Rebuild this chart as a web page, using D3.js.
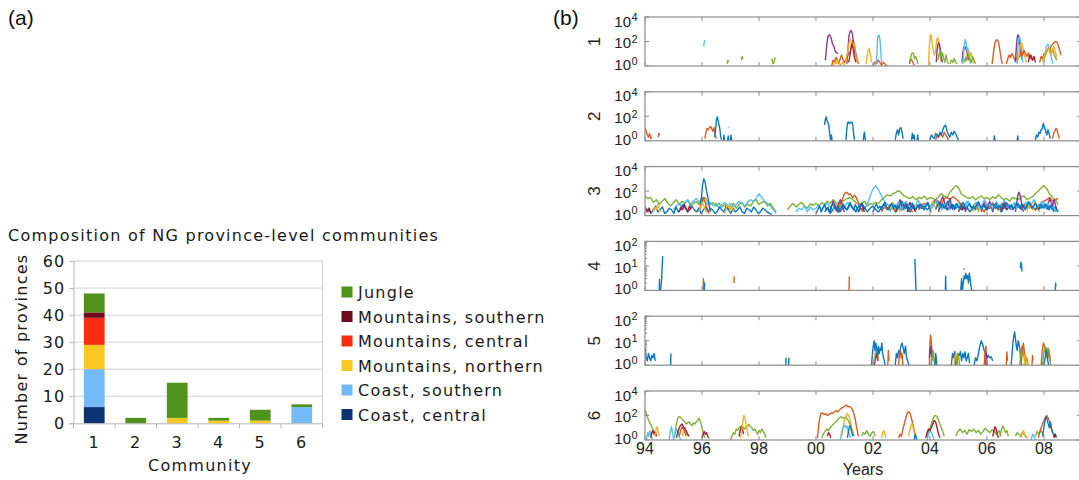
<!DOCTYPE html>
<html>
<head>
<meta charset="utf-8">
<script src="https://cdn.jsdelivr.net/npm/d3@7"></script>
<style>
  body { margin: 0; background: #fff; }
  svg { display: block; }
</style>
</head>
<body>
<svg id="fig" width="1079" height="480"></svg>
<script>
// ---------------- (a) composition of communities ----------------
const communities = ['1', '2', '3', '4', '5', '6'];
const regions = ['Coast, central', 'Coast, southern', 'Mountains, northern',
                 'Mountains, central', 'Mountains, southern', 'Jungle'];
const coastCentral      = [6, 0, 0, 0, 0, 0];
const coastSouthern     = [14, 0, 0, 0, 0, 6];
const mountainsNorthern = [9, 0, 2, 1, 1, 0];
const mountainsCentral  = [10, 0, 0, 0, 0, 0];
const mountainsSouthern = [2, 0, 0, 0, 0, 0];
const jungle            = [7, 2, 13, 1, 4, 1];
const regionColors = ['#0c3472', '#73bbf8', '#fcc821', '#fc2c12', '#6b0b1d', '#4f931c'];
const countTicks = [0, 10, 20, 30, 40, 50, 60];

// ---------------- (b) time series per community ----------------
const yearTicks  = [1994, 1996, 1998, 2000, 2002, 2004, 2006, 2008];
const yearLabels = ['94', '96', '98', '00', '02', '04', '06', '08'];
const panelNames = ['1', '2', '3', '4', '5', '6'];
const panelMax   = [1e4, 1e4, 1e4, 1e2, 1e2, 1e4];
const lineColors = { B: '#0072BD', O: '#D95319', Y: '#EDB120', P: '#7E2F8E',
                     G: '#77AC30', C: '#4DBEEE', R: '#A2142F' };

// each trace: colour key, start year, sampling step (years), counts
const comm1 = [
  { c: 'C', t0: 1996.06, dt: 0.02, v: [40, 90, 130] },
  { c: 'G', t0: 1996.88, dt: 0.03, v: [1.5, 3, 2] },
  { c: 'G', t0: 1997.38, dt: 0.03, v: [3, 6, 4] },
  { c: 'G', t0: 1998.45, dt: 0.04, v: [4, 1.5, 2, 5] },
  { c: 'O', t0: 2000.55, dt: 0.05, v: [1, 3, 2, 5, 3, 1.5, 4, 8, 3, 2, 3, 6, 10, 15, 40, 120, 60, 10, 3, 1.5] },
  { c: 'Y', t0: 2000.6, dt: 0.05, v: [1, 2, 1.5, 3, 2, 1.2, 1.5, 2, 1] },
  { c: 'P', t0: 2000.33, dt: 0.05, v: [3, 60, 300, 350, 200, 60, 40, 15, 12, 10] },
  { c: 'P', t0: 2001.08, dt: 0.04, v: [1.5, 20, 300, 700, 760, 400, 60, 12, 8, 3] },
  { c: 'Y', t0: 2001.05, dt: 0.04, v: [2, 8, 30, 100, 150, 60, 40, 80, 20, 5, 2, 1.5] },
  { c: 'R', t0: 2001.15, dt: 0.05, v: [2, 10, 60, 30, 5, 2] },
  { c: 'Y', t0: 2001.75, dt: 0.04, v: [1.5, 5, 20, 28, 8, 2] },
  { c: 'O', t0: 2002.0, dt: 0.06, v: [1, 2, 1.5, 3, 2, 1.2, 2, 1.5, 1] },
  { c: 'C', t0: 2002.1, dt: 0.03, v: [1.2, 5, 150, 350, 300, 120, 8, 1.5] },
  { c: 'O', t0: 2003.28, dt: 0.04, v: [1.5, 4, 3, 2, 1.2] },
  { c: 'G', t0: 2003.3, dt: 0.04, v: [2, 8, 12, 10, 4, 6, 3, 1.5] },
  { c: 'Y', t0: 2003.95, dt: 0.03, v: [1.2, 50, 300, 355, 100, 30, 12, 8, 15, 60, 180, 200, 80, 15, 4, 2] },
  { c: 'P', t0: 2004.22, dt: 0.03, v: [2, 20, 60, 80, 50, 20, 5, 2] },
  { c: 'G', t0: 2004.28, dt: 0.04, v: [3, 10, 15, 6, 12, 4, 2, 8, 3, 1.5] },
  { c: 'G', t0: 2004.7, dt: 0.05, v: [1.5, 3, 2, 4, 2, 1.5] },
  { c: 'P', t0: 2005.12, dt: 0.04, v: [2, 15, 40, 35, 20, 8, 3] },
  { c: 'C', t0: 2005.15, dt: 0.03, v: [1.5, 10, 60, 140, 80, 20, 30, 10, 3, 1.5] },
  { c: 'Y', t0: 2005.25, dt: 0.04, v: [2, 10, 20, 15, 6, 12, 3, 1.5] },
  { c: 'G', t0: 2005.2, dt: 0.05, v: [2, 5, 3, 8, 4, 2, 6, 3, 1.5] },
  { c: 'O', t0: 2006.18, dt: 0.04, v: [1.5, 8, 40, 110, 140, 120, 60, 15, 4, 1.5] },
  { c: 'O', t0: 2006.68, dt: 0.05, v: [1.5, 4, 8, 5, 10, 6, 3, 5, 2] },
  { c: 'P', t0: 2007.0, dt: 0.03, v: [2, 30, 200, 355, 250, 60, 20, 8, 3] },
  { c: 'C', t0: 2007.05, dt: 0.03, v: [1.5, 20, 150, 250, 120, 30, 8, 2] },
  { c: 'Y', t0: 2007.1, dt: 0.04, v: [3, 20, 60, 80, 30, 10, 5, 2] },
  { c: 'O', t0: 2007.15, dt: 0.05, v: [5, 15, 8, 20, 10, 6, 12, 4, 8, 3] },
  { c: 'R', t0: 2007.45, dt: 0.05, v: [2, 8, 5, 3, 6, 2] },
  { c: 'O', t0: 2007.85, dt: 0.05, v: [2, 6, 4, 10, 8, 15, 30, 20, 40, 60, 80, 100, 90, 50, 20, 8] },
  { c: 'C', t0: 2008.0, dt: 0.04, v: [2, 10, 40, 60, 50, 20, 8, 3, 1.5] },
  { c: 'G', t0: 2008.0, dt: 0.05, v: [3, 8, 15, 30, 20, 12, 25, 10, 5, 3] },
  { c: 'Y', t0: 2007.95, dt: 0.05, v: [2, 5, 12, 20, 30, 15, 8, 20, 40, 15, 5] }
];

const comm2 = [
  { c: 'O', t0: 1994.0, dt: 0.04, v: [12, 6, 3, 2, 4, 1.5, 2] },
  { c: 'O', t0: 1994.46, dt: 0.03, v: [2, 4, 3] },
  { c: 'O', t0: 1996.1, dt: 0.04, v: [1.5, 5, 10, 8, 12, 15, 10, 6, 12, 3, 1.5] },
  { c: 'B', t0: 1996.45, dt: 0.03, v: [2, 10, 60, 90, 40, 20, 8, 2, 1.2] },
  { c: 'B', t0: 1996.75, dt: 0.02, v: [1, 3, 1] },
  { c: 'B', t0: 1996.9, dt: 0.02, v: [1, 2.5, 1] },
  { c: 'B', t0: 1997.0, dt: 0.02, v: [1, 3, 1] },
  { c: 'C', t0: 1996.94, dt: 0.02, v: [12, 14] },
  { c: 'B', t0: 2000.3, dt: 0.03, v: [20, 60, 90, 40, 30, 20, 4, 1.2, 3, 1] },
  { c: 'B', t0: 2001.05, dt: 0.03, v: [1.2, 8, 30, 35, 25, 32, 30, 35, 20, 4, 1.2] },
  { c: 'B', t0: 2001.66, dt: 0.02, v: [1, 3, 5, 2, 1] },
  { c: 'B', t0: 2002.78, dt: 0.04, v: [1.2, 4, 8, 3, 10, 12, 5, 1.5] },
  { c: 'B', t0: 2003.35, dt: 0.03, v: [1, 4, 1.5, 3, 1] },
  { c: 'B', t0: 2003.55, dt: 0.02, v: [1, 3, 1] },
  { c: 'O', t0: 2004.2, dt: 0.05, v: [1.2, 3, 2, 4, 3, 2, 5, 3, 2, 1.2] },
  { c: 'B', t0: 2004.0, dt: 0.05, v: [1.2, 3, 2, 1.5, 4, 3, 2, 5, 3, 8, 15, 19, 6, 3, 2, 5, 3, 6, 4, 2, 1.2] },
  { c: 'B', t0: 2006.24, dt: 0.02, v: [1, 2.5, 1] },
  { c: 'B', t0: 2007.06, dt: 0.02, v: [1, 2.5, 1] },
  { c: 'B', t0: 2007.7, dt: 0.04, v: [1.2, 3, 2, 5, 4, 8, 10, 26, 12, 6, 3, 8, 4, 1.5] },
  { c: 'O', t0: 2008.3, dt: 0.04, v: [1.5, 4, 6, 10, 8, 3, 1.5] }
];

const comm3 = [
  { c: 'G', t0: 1994.0, dt: 0.1, v: [40, 25, 30, 12, 20, 8, 15, 25, 10, 6, 12, 20, 8, 15, 10, 18, 6, 10, 14, 8,
                                    25, 30, 15, 8, 12, 6, 10, 5, 8, 3, 6, 10, 4, 8, 12, 5, 9, 6, 14, 20,
                                    8, 12, 15, 6, 10, 4, 2] },
  { c: 'G', t0: 1999.0, dt: 0.1, v: [3, 6, 10, 5, 8, 12, 6, 4, 9, 7,
                                    10, 6, 12, 8, 15, 10, 20, 12, 8, 14,
                                    18, 25, 30, 20, 12, 8, 10, 15, 6, 10,
                                    8, 12, 10, 20, 30, 50, 40, 60, 80, 112,
                                    70, 40, 30, 25, 35, 20, 30, 25, 40, 20,
                                    30, 25, 20, 35, 60, 40, 30, 80, 150, 280,
                                    200, 60, 40, 30, 25, 35, 20, 30, 40, 25,
                                    30, 20, 35, 25, 50, 30, 20, 25, 15, 30,
                                    25, 20, 30, 40, 20, 25, 35, 60, 100, 180,
                                    280, 150, 60, 30, 20, 8] },
  { c: 'C', t0: 1995.0, dt: 0.1, v: [3, 6, 10, 5, 12, 20, 8, 15, 25, 12, 30, 15, 8, 12, 6, 10, 4, 8, 12, 6,
                                    10, 5, 8, 15, 10, 6, 12, 20, 15, 25, 60, 30, 15, 10, 6, 3, 1.5] },
  { c: 'C', t0: 1999.3, dt: 0.1, v: [2, 4, 3, 6, 2, 5, 3,
                                    4, 8, 3, 6, 10, 5, 3, 8, 4, 6,
                                    5, 12, 8, 4, 3, 6, 10, 4, 8, 40,
                                    150, 280, 120, 40, 15, 8, 5, 10, 6, 4,
                                    8, 3, 6, 12, 5, 3, 8, 4, 6, 10,
                                    5, 8, 12, 6, 4, 10, 5, 3, 8, 6,
                                    10, 5, 8, 15, 6, 3, 5, 10, 4, 6,
                                    8, 4, 12, 6, 3, 8, 5, 10, 6, 4,
                                    6, 10, 5, 8, 12, 4, 6, 3, 8, 5,
                                    10, 6, 4, 8, 3, 2] },
  { c: 'B', t0: 1994.05, dt: 0.08, v: [2, 4, 1.5, 3, 6, 2, 3, 5, 1.5, 2, 4, 3, 1.5, 5, 2, 3, 8, 4, 2, 3,
                                      6, 3, 2, 4, 1.5, 3, 5, 2, 4, 3, 1.5, 2, 5, 3, 2, 6, 3, 1.5, 4, 2,
                                      3, 5, 2, 1.5, 4, 3, 2, 5, 3, 1.5, 2, 4, 3, 2, 1.5, 1.2] },
  { c: 'B', t0: 1995.9, dt: 0.04, v: [2, 5, 30, 300, 1000, 700, 200, 60, 20, 5, 2] },
  { c: 'B', t0: 2000.3, dt: 0.1, v: [2, 4, 1.5, 3, 6, 2, 3,
                                    5, 3, 8, 4, 2, 6, 3, 5, 2, 4,
                                    6, 3, 2, 5, 8, 4, 3, 6, 2, 5,
                                    3, 7, 4, 2, 5, 3, 8, 4, 6, 3,
                                    5, 10, 20, 8, 4, 6, 3, 5, 8, 4,
                                    6, 3, 8, 5, 2, 4, 7, 3, 5, 6,
                                    3, 5, 8, 4, 6, 2, 5, 3, 7, 4,
                                    5, 8, 3, 6, 4, 10, 5, 3, 6, 4,
                                    8, 4, 6, 3, 5, 2] },
  { c: 'O', t0: 1995.9, dt: 0.05, v: [2, 5, 10, 30, 15, 6, 3, 1.5] },
  { c: 'O', t0: 2000.8, dt: 0.05, v: [3, 8, 15, 30, 60, 80, 70, 50, 60, 40, 30, 45, 35, 20, 10, 5, 3, 2] },
  { c: 'O', t0: 2002.3, dt: 0.1, v: [2, 5, 3, 8, 4, 2, 6, 3, 10, 5, 3, 2] },
  { c: 'O', t0: 2003.6, dt: 0.1, v: [3, 6, 10, 8, 5, 12, 20, 15, 8, 25, 30, 20, 35, 25, 15, 8, 5, 3] },
  { c: 'O', t0: 2005.6, dt: 0.1, v: [3, 8, 5, 2, 6, 4, 10, 5, 3, 8, 12, 6, 4, 3] },
  { c: 'O', t0: 2007.2, dt: 0.1, v: [4, 8, 6, 12, 5, 3, 6, 10, 15, 20, 30, 15, 20, 25] },
  { c: 'Y', t0: 1994.3, dt: 0.05, v: [2, 5, 3, 8, 4, 2] },
  { c: 'Y', t0: 1995.9, dt: 0.05, v: [2, 6, 12, 8, 4, 2] },
  { c: 'Y', t0: 1996.8, dt: 0.05, v: [1.5, 4, 8, 5, 3, 6, 2] },
  { c: 'Y', t0: 2000.6, dt: 0.05, v: [2, 6, 10, 4, 8, 3, 2] },
  { c: 'Y', t0: 2002.6, dt: 0.05, v: [2, 5, 12, 6, 3, 8, 4, 2] },
  { c: 'Y', t0: 2004.0, dt: 0.05, v: [2, 8, 15, 6, 4, 10, 5, 2] },
  { c: 'Y', t0: 2005.5, dt: 0.05, v: [2, 6, 10, 4, 2, 5, 8, 3] },
  { c: 'Y', t0: 2007.4, dt: 0.05, v: [2, 5, 10, 6, 3, 8, 15, 6, 3, 2] },
  { c: 'P', t0: 2000.5, dt: 0.05, v: [2, 6, 15, 8, 3, 2, 10, 20, 12, 4, 2] },
  { c: 'P', t0: 2002.8, dt: 0.05, v: [2, 5, 10, 20, 8, 3, 6, 12, 5, 2] },
  { c: 'P', t0: 2004.3, dt: 0.05, v: [2, 8, 20, 35, 15, 6, 3, 10, 25, 8, 3] },
  { c: 'P', t0: 2005.8, dt: 0.05, v: [2, 6, 12, 5, 3, 8, 15, 6, 2] },
  { c: 'P', t0: 2007.0, dt: 0.04, v: [2, 10, 40, 80, 50, 15, 5, 2] },
  { c: 'P', t0: 2008.1, dt: 0.05, v: [3, 10, 25, 12, 6, 20, 8, 3] },
  { c: 'R', t0: 1994.0, dt: 0.05, v: [5, 3, 2, 4, 1.5] },
  { c: 'R', t0: 1995.2, dt: 0.06, v: [2, 5, 3, 8, 4, 2, 6, 3] },
  { c: 'R', t0: 2001.5, dt: 0.05, v: [2, 5, 10, 4, 2] },
  { c: 'R', t0: 2003.2, dt: 0.05, v: [2, 6, 12, 5, 8, 3, 2] },
  { c: 'R', t0: 2005.0, dt: 0.05, v: [2, 4, 8, 3, 6, 2] },
  { c: 'R', t0: 2006.5, dt: 0.05, v: [2, 5, 10, 6, 3] },
  { c: 'C', t0: 2002.6, dt: 0.07, v: [2, 4, 8, 5, 12, 6, 3, 9, 15, 7, 4, 10, 5, 8, 20, 9, 5, 3, 7, 12,
                                     6, 4, 8, 18, 10, 5, 3, 6, 9, 4] },
  { c: 'C', t0: 2005.0, dt: 0.07, v: [3, 6, 10, 5, 8, 15, 7, 4, 9, 12, 6, 3, 7, 20, 10, 5, 8, 4, 6, 14,
                                     7, 3, 9, 18, 8, 5, 3, 6, 12, 5, 4] },
  { c: 'C', t0: 2007.3, dt: 0.07, v: [4, 8, 12, 6, 10, 20, 9, 5, 7, 15, 8, 4, 10, 6, 3, 5, 2] },
  { c: 'B', t0: 2000.0, dt: 0.06, v: [1.5, 3, 6, 2, 4, 8, 3, 5, 2, 6, 10, 4, 3, 7, 2, 5, 9, 4, 3, 6,
                                     12, 5, 3, 8, 4, 2, 6, 10, 5, 3] },
  { c: 'B', t0: 2002.0, dt: 0.06, v: [2, 5, 9, 4, 6, 3, 8, 12, 5, 3, 6, 10, 4, 7, 3, 5, 9, 15, 6, 4,
                                     8, 3, 5, 10, 6, 3, 7, 4, 9, 5, 3, 6, 12, 4, 2] },
  { c: 'B', t0: 2004.2, dt: 0.06, v: [3, 7, 12, 5, 9, 4, 6, 15, 8, 4, 7, 3, 10, 6, 4, 8, 12, 5, 3, 7,
                                     9, 4, 6, 3, 8, 14, 6, 4, 9, 5, 3, 7] },
  { c: 'B', t0: 2006.2, dt: 0.06, v: [2, 6, 10, 4, 7, 3, 9, 5, 12, 6, 4, 8, 3, 6, 11, 5, 4, 9, 6, 3,
                                     7, 14, 8, 4, 6, 10, 5, 3, 8, 6, 4, 9, 5, 3, 7, 4, 2] }
];

const comm4 = [
  { c: 'B', t0: 1994.5, dt: 0.01, v: [1, 3] },
  { c: 'B', t0: 1994.54, dt: 0.04, v: [1, 2.5, 25] },
  { c: 'O', t0: 1996.04, dt: 0.01, v: [1, 3, 2] },
  { c: 'B', t0: 1996.08, dt: 0.01, v: [1, 2, 1.5] },
  { c: 'O', t0: 1997.12, dt: 0.01, v: [2, 3.8] },
  { c: 'O', t0: 2001.16, dt: 0.01, v: [1, 3.5, 3] },
  { c: 'B', t0: 2003.47, dt: 0.04, v: [19, 1] },
  { c: 'B', t0: 2004.54, dt: 0.01, v: [1, 3.8, 1] },
  { c: 'B', t0: 2005.08, dt: 0.03, v: [1, 3, 1, 2, 4, 3, 5, 3, 4, 2, 5, 3, 1.5, 1] },
  { c: 'B', t0: 2005.2, dt: 0.01, v: [7, 8] },
  { c: 'B', t0: 2007.17, dt: 0.02, v: [8, 14, 12, 6] },
  { c: 'B', t0: 2008.4, dt: 0.01, v: [1, 2, 1.5] }
];

const comm5 = [
  { c: 'B', t0: 1994.0, dt: 0.04, v: [5, 2, 1.5, 3, 2, 1.5, 2.5, 2, 3, 1.5] },
  { c: 'B', t0: 1994.9, dt: 0.01, v: [1, 3] },
  { c: 'B', t0: 1998.94, dt: 0.01, v: [1, 2] },
  { c: 'B', t0: 1999.04, dt: 0.01, v: [1, 2] },
  { c: 'Y', t0: 2002.0, dt: 0.04, v: [1, 2, 4, 2, 3, 1.5] },
  { c: 'P', t0: 2002.05, dt: 0.04, v: [1, 2, 3, 1.5] },
  { c: 'B', t0: 2001.95, dt: 0.03, v: [1, 3, 6, 10, 4, 8, 5, 2, 6, 3, 5, 4, 8, 3, 2, 1.5, 1] },
  { c: 'O', t0: 2002.52, dt: 0.02, v: [1, 4, 1.5] },
  { c: 'B', t0: 2002.78, dt: 0.04, v: [1, 3, 2, 4, 3, 6, 8, 5, 3, 6, 2, 1.5, 1] },
  { c: 'O', t0: 2002.9, dt: 0.03, v: [1, 3, 4, 2, 3, 1] },
  { c: 'O', t0: 2003.98, dt: 0.02, v: [1, 8, 17, 12, 5, 3, 1.5] },
  { c: 'P', t0: 2003.98, dt: 0.02, v: [2, 5, 3, 6, 2] },
  { c: 'G', t0: 2004.05, dt: 0.03, v: [1, 3, 4, 2, 1] },
  { c: 'B', t0: 2004.18, dt: 0.02, v: [1, 3, 2, 1] },
  { c: 'B', t0: 2004.75, dt: 0.04, v: [1, 3, 2, 3.6, 1, 2, 3, 2.5, 3.6, 1.5, 3, 2, 3.5, 1.5, 2, 3, 1.2] },
  { c: 'Y', t0: 2004.85, dt: 0.03, v: [1, 2.5, 3, 2, 1] },
  { c: 'G', t0: 2004.95, dt: 0.03, v: [1, 3, 2, 1] },
  { c: 'B', t0: 2005.55, dt: 0.05, v: [1, 2, 1.5, 3, 6, 10, 7, 4, 3, 2, 2.5, 2, 2.2, 1.5] },
  { c: 'O', t0: 2005.9, dt: 0.03, v: [1, 3, 6, 2, 1] },
  { c: 'P', t0: 2005.95, dt: 0.03, v: [1, 3, 2] },
  { c: 'O', t0: 2006.68, dt: 0.02, v: [1, 3.5, 1.5] },
  { c: 'B', t0: 2006.85, dt: 0.03, v: [1, 3, 8, 15, 23, 12, 6, 4, 10, 8, 5, 2, 1] },
  { c: 'G', t0: 2007.15, dt: 0.04, v: [1, 3, 6, 3, 2, 1] },
  { c: 'O', t0: 2007.2, dt: 0.04, v: [1, 4, 8, 3, 1.5, 2, 1] },
  { c: 'Y', t0: 2007.3, dt: 0.04, v: [1, 3, 2, 1] },
  { c: 'O', t0: 2007.58, dt: 0.02, v: [1, 2.5, 1.5] },
  { c: 'O', t0: 2007.9, dt: 0.04, v: [1, 4, 8, 6, 3, 5, 2, 4, 1.5] },
  { c: 'G', t0: 2007.95, dt: 0.04, v: [1, 3, 6, 4, 2, 5, 3, 1] },
  { c: 'B', t0: 2008.0, dt: 0.04, v: [1, 2, 4, 2, 1] }
];

const comm6 = [
  { c: 'G', t0: 1994.0, dt: 0.05, v: [250, 150, 60, 30, 20, 10, 5, 3, 2] },
  { c: 'C', t0: 1994.05, dt: 0.04, v: [1, 4, 2, 6, 3, 1] },
  { c: 'R', t0: 1994.2, dt: 0.04, v: [1.5, 4, 6, 3, 5, 2] },
  { c: 'Y', t0: 1994.35, dt: 0.04, v: [2, 8, 12, 4, 2] },
  { c: 'C', t0: 1994.85, dt: 0.04, v: [1, 5, 12, 3, 1] },
  { c: 'G', t0: 1995.05, dt: 0.05, v: [3, 20, 60, 80, 70, 50, 40, 30, 20, 25, 30, 20, 15, 25, 20, 30, 40, 60, 30, 10, 3, 1.5] },
  { c: 'C', t0: 1995.0, dt: 0.05, v: [1, 3, 8, 5, 2, 1] },
  { c: 'O', t0: 1995.2, dt: 0.05, v: [2, 6, 12, 8, 4, 2] },
  { c: 'Y', t0: 1995.3, dt: 0.05, v: [2, 5, 10, 4, 2] },
  { c: 'R', t0: 1995.1, dt: 0.05, v: [1.5, 4, 10, 16, 20, 12, 8, 5, 3, 2] },
  { c: 'R', t0: 1996.0, dt: 0.04, v: [1.5, 3, 5, 3, 4, 2, 1.5] },
  { c: 'G', t0: 1997.0, dt: 0.05, v: [1, 2, 4, 3, 8, 6, 10, 12, 15, 10, 8, 12, 15, 18, 12, 10, 6, 8, 5, 3, 6, 4, 8, 5, 3, 1.5] },
  { c: 'R', t0: 1997.3, dt: 0.04, v: [2, 6, 12, 8, 3] },
  { c: 'Y', t0: 1997.35, dt: 0.04, v: [1.5, 5, 30, 100, 60, 20, 5, 2] },
  { c: 'G', t0: 2000.2, dt: 0.06, v: [1.5, 3, 5, 8, 6, 10, 15, 20, 30, 40, 60, 80, 70, 60, 80, 50, 30, 15, 5, 2] },
  { c: 'O', t0: 2000.05, dt: 0.06, v: [1.5, 30, 150, 160, 120, 140, 100, 130, 160, 150, 200, 250, 200, 300, 400, 450, 600, 690, 500, 550, 400, 200, 60, 10, 2] },
  { c: 'R', t0: 2000.4, dt: 0.04, v: [2, 4, 3, 1.5] },
  { c: 'Y', t0: 2000.9, dt: 0.05, v: [2, 10, 40, 80, 150, 100, 40, 10, 3] },
  { c: 'C', t0: 2000.85, dt: 0.04, v: [1, 3, 8, 12, 16, 10, 14, 6, 3, 1.5] },
  { c: 'B', t0: 2001.1, dt: 0.04, v: [1.5, 5, 15, 10, 4, 2] },
  { c: 'G', t0: 2001.6, dt: 0.06, v: [2, 4, 3, 6, 3, 2, 4, 5, 2] },
  { c: 'Y', t0: 2002.3, dt: 0.04, v: [1.5, 4, 6, 3, 1.5] },
  { c: 'O', t0: 2002.9, dt: 0.05, v: [1.5, 3, 2, 8, 20, 60, 150, 200, 150, 60, 20, 5, 2] },
  { c: 'Y', t0: 2003.25, dt: 0.04, v: [2, 6, 15, 22, 10, 4, 2] },
  { c: 'B', t0: 2003.45, dt: 0.03, v: [1, 3, 2, 1] },
  { c: 'G', t0: 2003.9, dt: 0.05, v: [2, 5, 8, 20, 50, 90, 100, 80, 40, 20, 10, 5, 2] },
  { c: 'C', t0: 2003.9, dt: 0.05, v: [1, 3, 6, 4, 2, 1] },
  { c: 'R', t0: 2003.85, dt: 0.05, v: [1.5, 4, 8, 6, 10, 20, 40, 30, 10, 3, 1.5] },
  { c: 'G', t0: 2004.9, dt: 0.08, v: [2, 5, 8, 4, 6, 3, 7, 5, 8, 4, 6, 3, 5, 9, 6, 4, 7, 5, 3, 6, 2] },
  { c: 'R', t0: 2006.2, dt: 0.04, v: [2, 5, 12, 8, 3, 1.5] },
  { c: 'G', t0: 2006.45, dt: 0.05, v: [2, 6, 14, 8, 4, 6, 2] },
  { c: 'G', t0: 2007.0, dt: 0.06, v: [2, 4, 3, 2, 4, 3, 2, 1.5] },
  { c: 'Y', t0: 2007.2, dt: 0.04, v: [1.5, 4, 6, 3, 1.5] },
  { c: 'C', t0: 2007.55, dt: 0.05, v: [1, 3, 2, 1] },
  { c: 'G', t0: 2007.7, dt: 0.06, v: [2, 5, 3, 6, 4, 2] },
  { c: 'O', t0: 2007.8, dt: 0.05, v: [1.5, 4, 10, 20, 40, 70, 100, 60, 30, 10, 4] },
  { c: 'B', t0: 2007.95, dt: 0.04, v: [2, 8, 30, 80, 50, 20, 10, 30, 8, 4, 2, 3, 1.5] },
  { c: 'R', t0: 2008.35, dt: 0.04, v: [1.5, 3, 2] }
];

const panelTraces = [comm1, comm2, comm3, comm4, comm5, comm6];

// ---------------------------------------------------------------
const svg = d3.select('#fig');
svg.append('rect').attr('width', 1079).attr('height', 480).attr('fill', '#fff');

const leftFont = "'DejaVu Sans', sans-serif";
const rightFont = "'Liberation Sans', Arial, sans-serif";
const spacing = '1.25px';

// panel tags
svg.append('text').attr('x', 8).attr('y', 25).text('(a)')
  .attr('font-family', rightFont).attr('font-size', 21).attr('fill', '#111');
svg.append('text').attr('x', 553).attr('y', 25).text('(b)')
  .attr('font-family', rightFont).attr('font-size', 21).attr('fill', '#111');

// ---------------- stacked bar chart ----------------
(function drawBars() {
  const area = { left: 73.5, right: 322.5, top: 261, bottom: 423.3 };
  const g = svg.append('g').attr('font-family', leftFont).attr('letter-spacing', spacing);

  const x = d3.scaleBand().domain(communities).range([area.left, area.right])
    .paddingInner(0.5).paddingOuter(0.25);
  const y = d3.scaleLinear().domain([0, 60]).range([area.bottom, area.top]);

  const series = [coastCentral, coastSouthern, mountainsNorthern, mountainsCentral, mountainsSouthern, jungle];
  const rows = communities.map((c, i) => {
    const r = { community: c };
    regions.forEach((reg, k) => { r[reg] = series[k][i]; });
    return r;
  });
  const stacked = d3.stack().keys(regions)(rows);

  // grid
  g.append('g').selectAll('line').data(countTicks.slice(1)).join('line')
    .attr('x1', area.left).attr('x2', area.right)
    .attr('y1', d => y(d)).attr('y2', d => y(d))
    .attr('stroke', '#d2d2d2').attr('stroke-width', 1);
  g.append('line').attr('x1', area.right).attr('x2', area.right)
    .attr('y1', area.top).attr('y2', area.bottom).attr('stroke', '#d2d2d2');

  // bars
  stacked.forEach((layer, k) => {
    g.append('g').attr('fill', regionColors[k]).selectAll('rect')
      .data(layer.filter(d => d[1] > d[0])).join('rect')
      .attr('x', d => x(d.data.community)).attr('width', x.bandwidth())
      .attr('y', d => y(d[1])).attr('height', d => y(d[0]) - y(d[1]));
  });

  // axes
  const yAxis = g.append('g').attr('transform', `translate(${area.left},0)`)
    .call(d3.axisLeft(y).tickValues(countTicks).tickSize(4).tickPadding(4));
  yAxis.select('.domain').attr('stroke', '#b5b5b5');
  yAxis.selectAll('.tick line').attr('stroke', '#b5b5b5');
  yAxis.selectAll('text').attr('font-size', 16).attr('fill', '#1a1a1a')
    .attr('font-family', leftFont);

  const xAxis = g.append('g').attr('transform', `translate(0,${area.bottom})`)
    .call(d3.axisBottom(x).tickSize(0).tickPadding(10));
  xAxis.select('.domain').attr('stroke', '#b5b5b5');
  xAxis.selectAll('text').attr('font-size', 16).attr('fill', '#1a1a1a')
    .attr('font-family', leftFont).attr('dy', '0.9em');
  // tick marks between categories
  const step = x.step();
  const bounds = d3.range(communities.length + 1).map(i => area.left + i * step);
  g.append('g').selectAll('line').data(bounds).join('line')
    .attr('x1', d => d).attr('x2', d => d)
    .attr('y1', area.bottom).attr('y2', area.bottom + 5)
    .attr('stroke', '#b5b5b5');

  // titles
  g.append('text').attr('x', 8).attr('y', 241).attr('font-size', 16).attr('fill', '#1a1a1a')
    .text('Composition of NG province-level communities');
  g.append('text').attr('x', (area.left + area.right) / 2 + 2).attr('y', 471)
    .attr('text-anchor', 'middle').attr('font-size', 16).attr('fill', '#1a1a1a')
    .text('Community');
  g.append('text').attr('transform', 'translate(27,349) rotate(-90)')
    .attr('text-anchor', 'middle').attr('font-size', 16).attr('fill', '#1a1a1a')
    .text('Number of provinces');

  // legend
  const legendOrder = regions.map((r, k) => k).reverse();
  const lg = g.append('g');
  legendOrder.forEach((k, i) => {
    const cy = 292 + i * 24.5;
    lg.append('rect').attr('x', 341.5).attr('y', cy - 5.5).attr('width', 11).attr('height', 11)
      .attr('fill', regionColors[k]);
    lg.append('text').attr('x', 358).attr('y', cy + 6).attr('font-size', 16).attr('fill', '#1a1a1a')
      .text(regions[k]);
  });
})();

// ---------------- time series panels ----------------
(function drawPanels() {
  const left = 645, right = 1081;
  const x = d3.scaleLinear().domain([1994, 2009.3]).range([left, right]);
  const frame = '#8c8c8c';
  const g = svg.append('g').attr('font-family', rightFont);

  panelNames.forEach((name, p) => {
    const top = 17 + p * 74.8, bottom = top + 49;
    const maxV = panelMax[p];
    const y = d3.scaleLog().domain([1, maxV]).range([bottom, top]);
    const pg = g.append('g');

    const clipId = 'clip' + p;
    pg.append('clipPath').attr('id', clipId).append('rect')
      .attr('x', left).attr('y', top - 1).attr('width', right - left).attr('height', bottom - top + 1);

    // traces
    const line = d3.line().x(d => x(d[0])).y(d => y(d[1]));
    const lg = pg.append('g').attr('clip-path', `url(#${clipId})`);
    panelTraces[p].forEach(tr => {
      const pts = tr.v.map((val, i) => [tr.t0 + i * tr.dt, val]);
      lg.append('path').attr('d', line(pts)).attr('fill', 'none')
        .attr('stroke', lineColors[tr.c]).attr('stroke-width', 1.4)
        .attr('stroke-linejoin', 'round').attr('stroke-opacity', 0.95);
    });

    // frame
    pg.append('rect').attr('x', left).attr('y', top).attr('width', right - left).attr('height', bottom - top)
      .attr('fill', 'none').attr('stroke', frame).attr('stroke-width', 1.2);

    // year ticks on top and bottom edges
    yearTicks.forEach(t => {
      const xx = x(t);
      pg.append('line').attr('x1', xx).attr('x2', xx).attr('y1', top).attr('y2', top + 4)
        .attr('stroke', frame);
      pg.append('line').attr('x1', xx).attr('x2', xx).attr('y1', bottom).attr('y2', bottom - 4)
        .attr('stroke', frame);
    });

    // log ticks
    const major = maxV === 1e4 ? [1, 100, 10000] : [1, 10, 100];
    const labelExp = maxV === 1e4 ? ['0', '2', '4'] : ['0', '1', '2'];
    major.forEach(v => {
      const yy = y(v);
      pg.append('line').attr('x1', left).attr('x2', left + 4).attr('y1', yy).attr('y2', yy).attr('stroke', frame);
      pg.append('line').attr('x1', right - 4).attr('x2', right).attr('y1', yy).attr('y2', yy).attr('stroke', frame);
    });
    if (maxV === 1e2) {
      const minor = [2, 3, 4, 5, 6, 7, 8, 9, 20, 30, 40, 50, 60, 70, 80, 90];
      minor.forEach(v => {
        const yy = y(v);
        pg.append('line').attr('x1', left).attr('x2', left + 2).attr('y1', yy).attr('y2', yy).attr('stroke', frame);
      });
    }
    const baseOffsets = [4, 6.8, 9.6];
    major.forEach((v, j) => {
      const base = y(v) + baseOffsets[j];
      pg.append('text').attr('x', 631).attr('y', base).attr('text-anchor', 'end')
        .attr('font-size', 15).attr('fill', '#222').text('10');
      pg.append('text').attr('x', 631.5).attr('y', base - 5.5).attr('text-anchor', 'start')
        .attr('font-size', 11).attr('fill', '#222').text(labelExp[j]);
    });

    // community number
    pg.append('text').attr('transform', `translate(600,${(top + bottom) / 2}) rotate(-90)`)
      .attr('text-anchor', 'middle').attr('font-size', 17).attr('fill', '#222').text(name);

    if (p === panelNames.length - 1) {
      yearTicks.forEach((t, i) => {
        pg.append('text').attr('x', x(t)).attr('y', bottom + 14).attr('text-anchor', 'middle')
          .attr('font-size', 16).attr('fill', '#222').text(yearLabels[i]);
      });
      pg.append('text').attr('x', 863).attr('y', 475).attr('text-anchor', 'middle')
        .attr('font-size', 16).attr('fill', '#222').text('Years');
    }
  });
})();
</script>
</body>
</html>
